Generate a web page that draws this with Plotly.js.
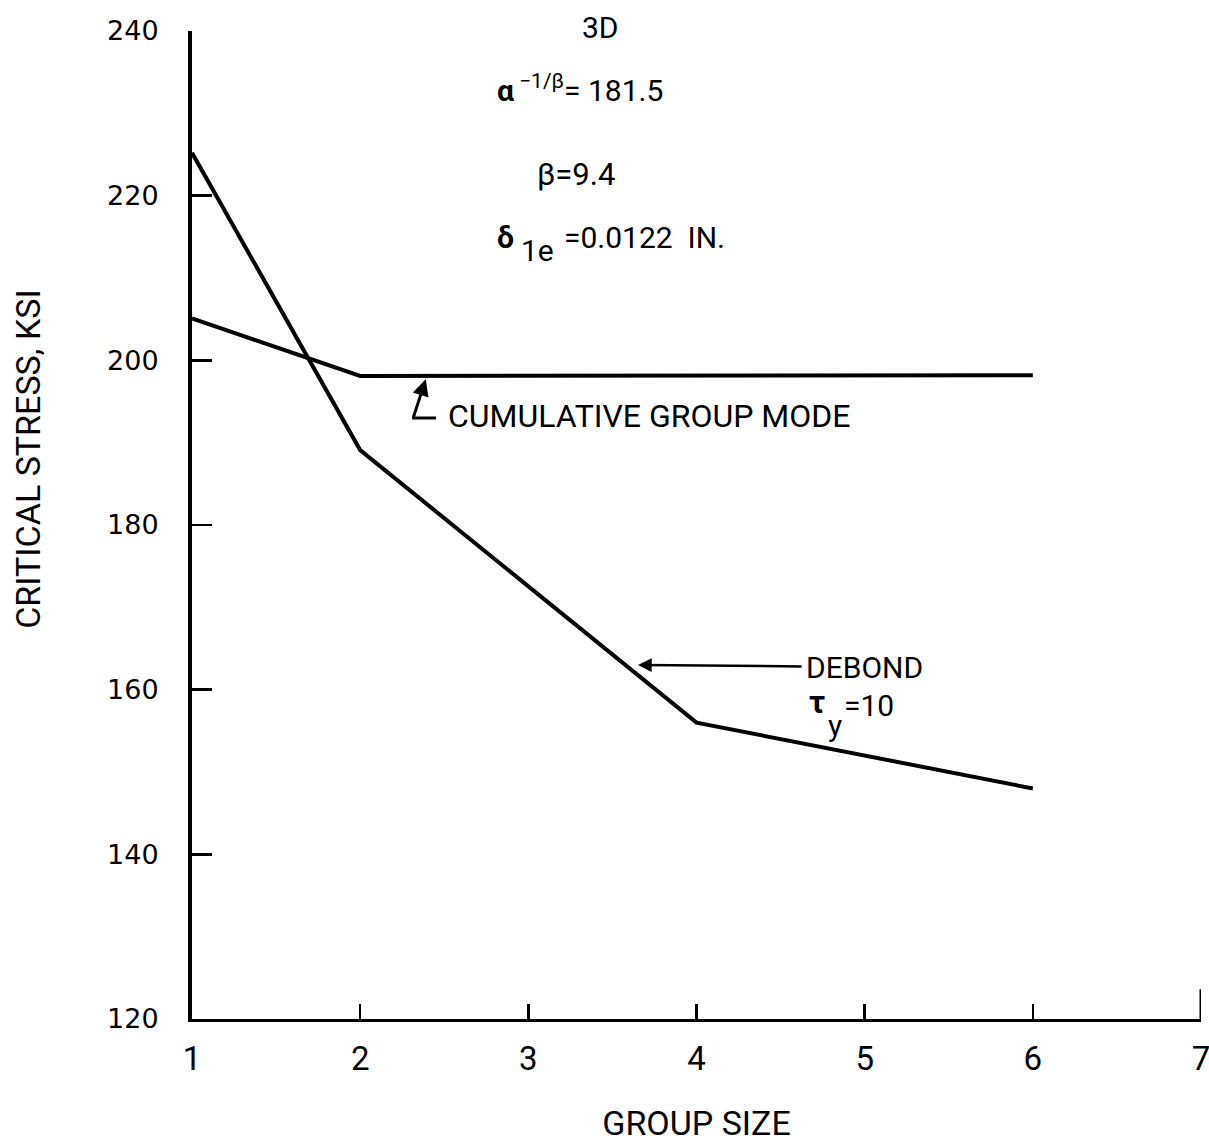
<!DOCTYPE html>
<html>
<head>
<meta charset="utf-8">
<script src="https://cdn.plot.ly/plotly-3.0.1.min.js"></script>
<style>html,body{margin:0;padding:0;background:#fff;}#chart{width:1209px;height:1143px;}</style>
</head>
<body>
<div id="chart"></div>
<script>
// Data
const groupSizeCumulative = [1, 2, 6];
const stressCumulative = [205.1, 198.1, 198.2];
const groupSizeDebond = [1, 2, 4, 6];
const stressDebond = [225.2, 189.1, 156.0, 148.0];
const xTickVals = [1, 2, 3, 4, 5, 6, 7];
const yTickVals = [120, 140, 160, 180, 200, 220, 240];

const face = 'Roboto, "Liberation Sans", sans-serif';

const traces = [
  {x: groupSizeCumulative, y: stressCumulative, mode: 'lines', name: 'CUMULATIVE GROUP MODE',
   line: {color: '#000', width: 4}},
  {x: groupSizeDebond, y: stressDebond, mode: 'lines', name: 'DEBOND',
   line: {color: '#000', width: 4}}
];

const txt = (s, x, y, size, xanchor) => ({
  text: s, x: x, y: y, xref: 'x', yref: 'y', showarrow: false,
  xanchor: xanchor || 'left', yanchor: 'middle',
  font: {family: face, size: size, color: '#000'}
});

const annotations = [
  {text: '3D', x: 3.43, y: 1.004, xref: 'x', yref: 'paper', showarrow: false,
   xanchor: 'center', yanchor: 'middle', font: {family: face, size: 30, color: '#000'}},
  txt('<b>α</b><sup> −1/β</sup>= 181.5', 2.80, 233.0, 30),
  txt('β=9.4', 3.04, 222.6, 31),
  txt('<b>δ</b>', 2.80, 214.9, 30),
  txt('1e', 2.945, 213.3, 30),
  txt('=0.0122  IN.', 3.20, 214.9, 30),
  txt('CUMULATIVE GROUP MODE', 2.51, 193.2, 32),
  {text: 'DEBOND', x: 3.652, y: 163.0, xref: 'x', yref: 'y', ax: 5.0, ay: 162.75, axref: 'x', ayref: 'y',
   showarrow: true, arrowhead: 2, arrowsize: 1.1, arrowwidth: 2.5, arrowcolor: '#000', borderpad: 4,
   font: {family: face, size: 30, color: '#000'}},
  txt('<b>τ</b>', 4.66, 158.5, 31),
  txt('y', 4.77, 155.7, 30),
  txt('=10', 4.865, 158.1, 30),
  // arrow pointing to the cumulative curve
  {x: 2.39, y: 197.7, xref: 'x', yref: 'y', ax: -13, ay: 40,
   text: '', showarrow: true, arrowhead: 2, arrowsize: 1.1, arrowwidth: 3, arrowcolor: '#000'},
  // y axis title (placed above the plot centre, as in the reference)
  {text: 'CRITICAL STRESS, KSI', x: (28 - 192) / 1009, y: 0.566, xref: 'paper', yref: 'paper', showarrow: false,
   textangle: -90, xanchor: 'center', yanchor: 'middle', font: {family: face, size: 34, color: '#000'}}
];

const layout = {
  width: 1209, height: 1143,
  margin: {l: 192, r: 8, t: 31, b: 124},
  paper_bgcolor: '#fff', plot_bgcolor: '#fff',
  showlegend: false,
  xaxis: {
    range: [1, 7], tickvals: xTickVals, ticks: 'inside', ticklen: 15, tickwidth: 2.5, tickcolor: '#000',
    showline: true, linewidth: 3, linecolor: '#000', showgrid: false, zeroline: false,
    tickfont: {family: face, size: 33, color: '#000'},
    ticklabelstandoff: 8, ticklabeloverflow: 'allow',
    title: {text: 'GROUP SIZE', font: {family: face, size: 34, color: '#000'}, standoff: 38}
  },
  yaxis: {
    range: [120, 240], tickvals: yTickVals, ticks: 'inside', ticklen: 20, tickwidth: 2.5, tickcolor: '#000',
    showline: true, linewidth: 4, linecolor: '#000', showgrid: false, zeroline: false,
    tickfont: {family: '"DejaVu Sans", sans-serif', size: 27, color: '#000'},
    ticklabelstandoff: 24
  },
  shapes: [
    {type: 'line', xref: 'x', yref: 'paper', x0: 7, x1: 7, y0: 0, y1: 0.03, line: {color: '#000', width: 3}},
    // foot of the L-shaped leader for the cumulative label
    {type: 'line', xref: 'paper', yref: 'paper',
     x0: (412 - 192) / 1009, x1: (436 - 192) / 1009, y0: (1019 - 418) / 988, y1: (1019 - 418) / 988,
     line: {color: '#000', width: 3}}
  ],
  annotations: annotations
};

Plotly.newPlot('chart', traces, layout, {displayModeBar: false, staticPlot: true});
</script>
</body>
</html>
